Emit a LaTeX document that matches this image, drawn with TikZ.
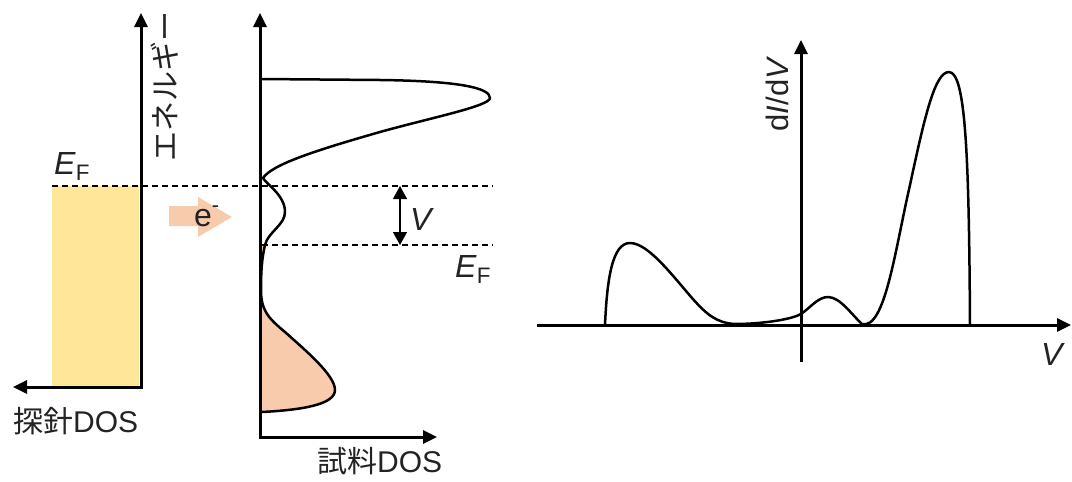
\documentclass[tikz,border=0pt]{standalone}
\usepackage{fontspec}
\setmainfont{Liberation Sans}
\newfontfamily\jp{Noto Sans CJK JP}
\usetikzlibrary{arrows.meta}
\definecolor{probeyellow}{RGB}{255,230,153}
\definecolor{sampleorange}{RGB}{248,203,173}
\definecolor{txt}{RGB}{35,35,35}
\tikzset{
  axisline/.style={line width=3pt, line join=miter},
  tip/.tip={Triangle[length=14pt,width=13pt]},
  curve/.style={line width=2.5pt, line join=round},
  fermi/.style={line width=2pt, dash pattern=on 6pt off 4pt},
  lbl/.style={inner sep=0pt, text=txt, font=\fontsize{32}{36}\selectfont},
  small/.style={inner sep=0pt, text=txt, font=\fontsize{30}{34}\selectfont},
}
\begin{document}
\begin{tikzpicture}[x=1pt,y=-1pt]
\useasboundingbox (0,0) rectangle (1072,482);

% ---------- probe ----------
\coordinate (O1) at (141,387);
\coordinate (T1) at (141,13);
\coordinate (L1) at (13,387);
\fill[probeyellow] (52,186) rectangle (139,387);
\draw[axisline, tip-tip] (L1) -- (O1) -- (T1);

% ---------- sample ----------
\coordinate (O2) at (260,437);
\coordinate (T2) at (260,13);
\coordinate (R2) at (437,437);
\coordinate (EF1a) at (52,186);
\coordinate (EF1b) at (493,186);
\coordinate (EF2a) at (262,245);
\coordinate (EF2b) at (493,245);
\coordinate (Va) at (400,186);
\coordinate (Vb) at (400,245);

\fill[sampleorange] (260,245) -- (265,245)
  .. controls (262,258) and (261,270) .. (261,290)
  .. controls (261,310) and (268,318) .. (285,332)
  .. controls (305,350) and (335,375) .. (335,390)
  .. controls (335,405) and (300,410) .. (262,412) -- (260,412) -- cycle;

\draw[curve] (260,79) -- (380,80)
  .. controls (460,81) and (490,88) .. (490,98)
  .. controls (490,106) and (430,118) .. (380,132)
  .. controls (310,152) and (272,165) .. (263,178)
  .. controls (266,184) and (285,195) .. (285,212)
  .. controls (285,225) and (268,232) .. (265,245)
  .. controls (262,258) and (261,270) .. (261,290)
  .. controls (261,310) and (268,318) .. (285,332)
  .. controls (305,350) and (335,375) .. (335,390)
  .. controls (335,405) and (300,410) .. (262,412);

\draw[axisline, tip-tip] (T2) -- (O2) -- (R2);

\draw[fermi] (EF1a) -- (EF1b);
\draw[fermi] (EF2a) -- (EF2b);
\draw[line width=1.3pt, {Triangle[length=13pt,width=14pt]}-{Triangle[length=13pt,width=14pt]}] (Va) -- (Vb);

% electron arrow
\fill[sampleorange] (169,206) -- (198,206) -- (198,197) -- (232,217) -- (198,237) -- (198,226) -- (169,226) -- cycle;
\node[lbl, anchor=base west] (e) at (194,226) {e\raisebox{0.42em}{\fontsize{22}{22}\selectfont -}};

\node[lbl, anchor=base west] (V1) at (410,230) {\textit{V}};
\node[lbl, anchor=base west] (EFl) at (54,174) {\textit{E}\textsubscript{F}};
\node[lbl, anchor=base west] (EFr) at (455,277) {\textit{E}\textsubscript{F}};
\node[small, rotate=90] (en) at (165,86) {\jp エネルギー};
\node[small, anchor=base west] (pdos) at (13,432) {{\jp 探針}DOS};
\node[small, anchor=base west] (sdos) at (317,472) {{\jp 試料}DOS};

% ---------- dI/dV ----------
\coordinate (H0) at (537,325);
\coordinate (H1) at (1071,325);
\coordinate (V0) at (801,362);
\coordinate (V1t) at (801,40);
\draw[axisline, -tip] (H0) -- (H1);
\draw[axisline, -tip] (V0) -- (V1t);
\node[lbl, rotate=90, font=\fontsize{31}{34}\selectfont] (didv) at (777,94) {d\textit{I}/d\textit{V}};
\node[lbl, anchor=base west] (Vr) at (1041,365) {\textit{V}};

\draw[curve] (605,325)
  .. controls (607,280) and (612,243) .. (630,243)
  .. controls (648,243) and (672,275) .. (692,298)
  .. controls (707,315) and (717,323) .. (735,324)
  .. controls (760,324) and (790,320) .. (801,314)
  .. controls (810,308) and (818,297) .. (828,297)
  .. controls (840,297) and (852,315) .. (862,324)
  .. controls (885,330) and (895,250) .. (910,185)
  .. controls (925,115) and (935,72) .. (949,72)
  .. controls (966,72) and (969,160) .. (970,325);
\end{tikzpicture}
\end{document}
